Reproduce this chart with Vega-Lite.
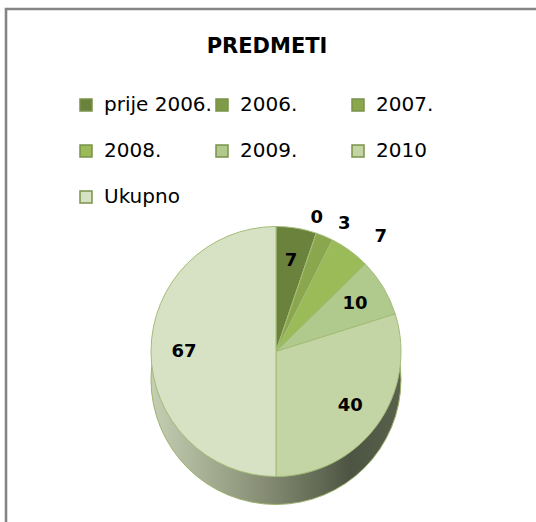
{
  "$schema": "https://vega.github.io/schema/vega-lite/v6.json",
  "autosize": "none",
  "width": 530,
  "height": 513,
  "padding": {"left": 6, "top": 9, "right": 0, "bottom": 0},
  "background": "white",
  "view": {"stroke": "#858585", "strokeWidth": 2.6, "fill": "white", "strokeDash": [530, 1043, 513]},
  "config": {"font": "DejaVu Sans"},
  "title": {"text": "PREDMETI", "fontSize": 21, "fontWeight": "bold", "font": "DejaVu Sans", "color": "#000000", "anchor": "middle", "offset": -48, "dx": -4},
  "data": {"values": [
    {"i": 1, "cat": "prije 2006.", "val": 7},
    {"i": 2, "cat": "2006.", "val": 0},
    {"i": 3, "cat": "2007.", "val": 3},
    {"i": 4, "cat": "2008.", "val": 7},
    {"i": 5, "cat": "2009.", "val": 10},
    {"i": 6, "cat": "2010", "val": 40},
    {"i": 7, "cat": "Ukupno", "val": 67}
  ]},
  "layer": [
    {
      "transform": [{"aggregate": [{"op": "sum", "field": "val", "as": "total"}]}],
      "mark": {"type": "arc", "outerRadius": 125, "xOffset": 5, "yOffset": 114, "stroke": "#9fb36f", "strokeWidth": 1,
        "fill": {"gradient": "linear", "x1": 0, "y1": 0, "x2": 1, "y2": 0, "stops": [
          {"offset": 0, "color": "#c5cfb3"},
          {"offset": 0.5, "color": "#7f866d"},
          {"offset": 0.8, "color": "#4d5443"},
          {"offset": 1, "color": "#59614c"}
        ]}},
      "encoding": {"theta": {"field": "total", "type": "quantitative"}}
    },
    {
      "mark": {"type": "arc", "outerRadius": 125, "xOffset": 5, "yOffset": 86, "stroke": "#a4bc78", "strokeWidth": 1},
      "encoding": {
        "theta": {"field": "val", "type": "quantitative", "stack": true},
        "order": {"field": "i", "type": "ordinal"},
        "color": {
          "field": "cat", "type": "nominal",
          "scale": {
            "domain": ["prije 2006.", "2006.", "2007.", "2008.", "2009.", "2010", "Ukupno"],
            "range": ["#6b823d", "#7f9b47", "#8aa74e", "#9bbb59", "#b0c98c", "#c4d5a5", "#d7e2c4"]
          },
          "legend": {
            "orient": "none", "legendX": 70, "legendY": 86, "direction": "horizontal", "columns": 3,
            "gridAlign": "all", "title": null, "symbolType": "square", "symbolSize": 144,
            "symbolStrokeColor": "#7a9349", "symbolStrokeWidth": 1.5,
            "labelFont": "DejaVu Sans", "labelFontSize": 20, "labelColor": "#000000",
            "labelOffset": 8, "columnPadding": 0, "rowPadding": 26, "labelLimit": 0
          }
        }
      }
    },
    {
      "mark": {"type": "text", "radius": 92, "xOffset": 5, "yOffset": 86, "fontSize": 18, "fontWeight": "bold", "font": "DejaVu Sans", "color": "#000000"},
      "encoding": {
        "theta": {"field": "val", "type": "quantitative", "stack": true},
        "order": {"field": "i", "type": "ordinal"},
        "detail": {"field": "cat", "type": "nominal"},
        "text": {"condition": {"test": "indexof(['prije 2006.','2009.','2010','Ukupno'], datum.cat) >= 0", "field": "val", "type": "quantitative"}, "value": ""}
      }
    },
    {
      "mark": {"type": "text", "radius": 145, "xOffset": 5, "yOffset": 86, "dx": -6, "dy": 4, "fontSize": 18, "fontWeight": "bold", "font": "DejaVu Sans", "color": "#000000"},
      "encoding": {
        "theta": {"field": "val", "type": "quantitative", "stack": true},
        "order": {"field": "i", "type": "ordinal"},
        "detail": {"field": "cat", "type": "nominal"},
        "text": {"condition": {"test": "datum.cat === '2006.'", "field": "val", "type": "quantitative"}, "value": ""}
      }
    },
    {
      "mark": {"type": "text", "radius": 145, "xOffset": 5, "yOffset": 86, "dx": 12, "dy": 6, "fontSize": 18, "fontWeight": "bold", "font": "DejaVu Sans", "color": "#000000"},
      "encoding": {
        "theta": {"field": "val", "type": "quantitative", "stack": true},
        "order": {"field": "i", "type": "ordinal"},
        "detail": {"field": "cat", "type": "nominal"},
        "text": {"condition": {"test": "datum.cat === '2007.'", "field": "val", "type": "quantitative"}, "value": ""}
      }
    },
    {
      "mark": {"type": "text", "radius": 150, "xOffset": 5, "yOffset": 86, "dx": 16, "dy": 6, "fontSize": 18, "fontWeight": "bold", "font": "DejaVu Sans", "color": "#000000"},
      "encoding": {
        "theta": {"field": "val", "type": "quantitative", "stack": true},
        "order": {"field": "i", "type": "ordinal"},
        "detail": {"field": "cat", "type": "nominal"},
        "text": {"condition": {"test": "datum.cat === '2008.'", "field": "val", "type": "quantitative"}, "value": ""}
      }
    }
  ]
}
